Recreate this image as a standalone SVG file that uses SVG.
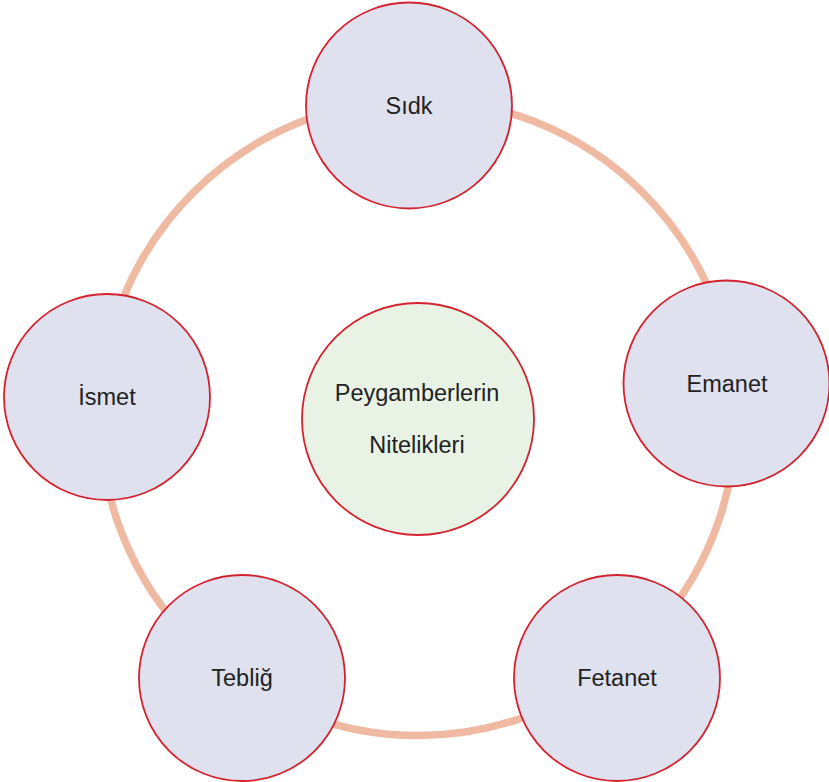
<svg xmlns="http://www.w3.org/2000/svg" width="829" height="782" viewBox="0 0 829 782">
<style>
.ring{fill:none;stroke:#F0B9A2;stroke-width:7.5}
.node{fill:#DFE1EE;stroke:#D2232E;stroke-width:1.8}
.core{fill:#E8F3E6;stroke:#D2232E;stroke-width:1.8}
.lbl{font-family:"Liberation Sans",Arial,sans-serif;font-size:23.5px;fill:#222;text-anchor:middle}
</style>
<rect width="829" height="782" fill="#fff"/>
<g id="connectors">
<circle class="ring" cx="418" cy="417.5" r="318"/>
</g>
<g id="center">
<circle class="core" cx="418" cy="419" r="116"/>
<text class="lbl" x="417" y="401">Peygamberlerin</text>
<text class="lbl" x="417" y="453">Nitelikleri</text>
</g>
<g id="sidk">
<circle class="node" cx="409" cy="105.5" r="103"/>
<text class="lbl" x="409" y="114">Sıdk</text>
</g>
<g id="emanet">
<circle class="node" cx="726.5" cy="383.5" r="103"/>
<text class="lbl" x="727" y="392">Emanet</text>
</g>
<g id="fetanet">
<circle class="node" cx="617" cy="678" r="103"/>
<text class="lbl" x="617" y="686">Fetanet</text>
</g>
<g id="teblig">
<circle class="node" cx="242" cy="678" r="103"/>
<text class="lbl" x="242" y="686">Tebliğ</text>
</g>
<g id="ismet">
<circle class="node" cx="107" cy="397" r="103"/>
<text class="lbl" x="107" y="405">İsmet</text>
</g>
</svg>
